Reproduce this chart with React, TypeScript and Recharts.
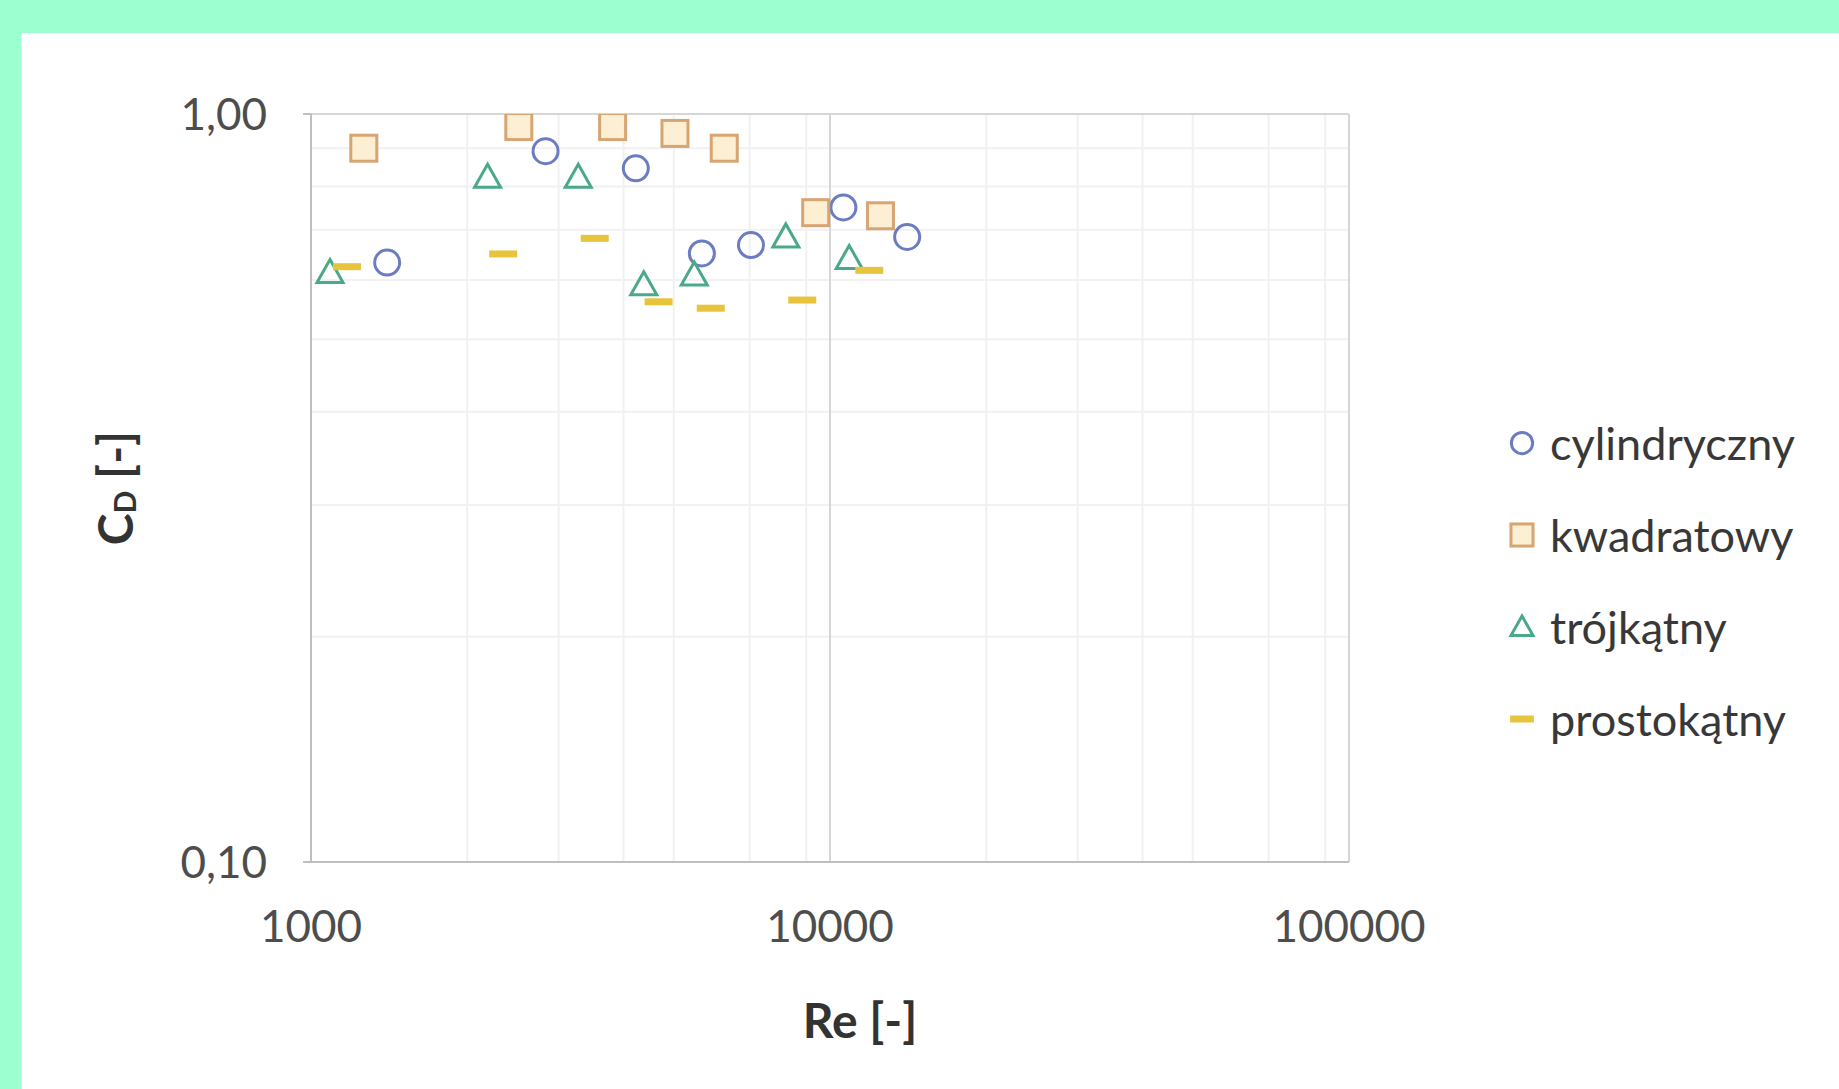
import { CartesianGrid, Scatter, ScatterChart, XAxis, YAxis } from 'recharts'

// Re [-] and C_D [-], one pair of arrays per shape
const reCylindryczny = [1402, 2831, 4225, 5664, 7043, 10612, 14083]
const cdCylindryczny = [0.633, 0.892, 0.846, 0.651, 0.668, 0.75, 0.685]

const reKwadratowy = [1264, 2514, 3812, 5027, 6255, 9385, 12509]
const cdKwadratowy = [0.9, 0.962, 0.962, 0.942, 0.9, 0.738, 0.731]

const reTrojkatny = [1088, 2189, 3273, 4377, 5476, 8220, 10889]
const cdTrojkatny = [0.614, 0.823, 0.823, 0.591, 0.609, 0.685, 0.641]

const reProstokatny = [1173, 2346, 3521, 4674, 5892, 8843, 11904]
const cdProstokatny = [0.625, 0.65, 0.682, 0.561, 0.55, 0.564, 0.618]

const X_TICKS = [1000, 10000, 100000]
const Y_TICKS = [0.1, 1]
const X_MINOR = [
  2000, 3000, 4000, 5000, 6000, 7000, 8000, 9000,
  20000, 30000, 40000, 50000, 60000, 70000, 80000, 90000,
]
const Y_MINOR = [0.2, 0.3, 0.4, 0.5, 0.6, 0.7, 0.8, 0.9]

type Kind = 'circle' | 'square' | 'triangle' | 'dash'

const SERIES: { name: string; re: number[]; cd: number[]; kind: Kind }[] = [
  { name: 'cylindryczny', re: reCylindryczny, cd: cdCylindryczny, kind: 'circle' },
  { name: 'kwadratowy', re: reKwadratowy, cd: cdKwadratowy, kind: 'square' },
  { name: 'trójkątny', re: reTrojkatny, cd: cdTrojkatny, kind: 'triangle' },
  { name: 'prostokątny', re: reProstokatny, cd: cdProstokatny, kind: 'dash' },
]

const FONT = 'Lato, "Open Sans", sans-serif'
const AXIS_GRAY = '#bfbfbf'

function toPoints(re: number[], cd: number[]) {
  return re.map((r, i) => ({ re: r, cd: cd[i] }))
}

function MarkerShape({ cx, cy, kind, s = 1 }: { cx: number; cy: number; kind: Kind; s?: number }) {
  if (kind === 'circle')
    return <circle cx={cx} cy={cy} r={12.5 * s} fill="none" stroke="#6b7cc0" strokeWidth={3} />
  if (kind === 'square')
    return (
      <rect
        x={cx - 13 * s}
        y={cy - 13 * s}
        width={26 * s}
        height={26 * s}
        fill="#fdefd4"
        stroke="#d6a572"
        strokeWidth={3}
      />
    )
  if (kind === 'triangle')
    return (
      <polygon
        points={`${cx},${cy - 13 * s} ${cx + 13 * s},${cy + 10 * s} ${cx - 13 * s},${cy + 10 * s}`}
        fill="none"
        stroke="#4aa987"
        strokeWidth={3}
      />
    )
  return <rect x={cx - 14 * s} y={cy - 3.5} width={28 * s} height={7} fill="#e7c43c" />
}

const fmtY = (v: number) => v.toFixed(2).replace('.', ',')

function XTitle(props: any) {
  const vb = props.viewBox
  return (
    <text
      x={vb.x + vb.width / 2 + 30}
      y={vb.y + 176}
      textAnchor="middle"
      fontFamily={FONT}
      fontWeight={700}
      fontSize={48}
      fill="#333333"
    >
      Re [-]
    </text>
  )
}

function YTitle(props: any) {
  const vb = props.viewBox
  const cx = 114
  const cy = vb.y + vb.height / 2
  return (
    <text
      x={cx}
      y={cy}
      transform={`rotate(-90 ${cx} ${cy})`}
      textAnchor="middle"
      dominantBaseline="central"
      fontFamily={FONT}
      fontWeight={700}
      fontSize={48}
      fill="#333333"
    >
      C
      <tspan fontSize={30} dy={10}>
        D
      </tspan>
      <tspan dy={-10}> [-]</tspan>
    </text>
  )
}

function LegendBox() {
  return (
    <div style={{ position: 'absolute', left: 1505, top: 397, fontFamily: FONT }}>
      {SERIES.map((s) => (
        <div key={s.name} style={{ display: 'flex', alignItems: 'center', height: 92 }}>
          <svg width={34} height={34} style={{ marginRight: 11 }}>
            <MarkerShape cx={17} cy={17} kind={s.kind} s={0.85} />
          </svg>
          <span style={{ fontSize: 45, color: '#383838', lineHeight: '92px' }}>{s.name}</span>
        </div>
      ))}
    </div>
  )
}

export default function App() {
  return (
    <div
      style={{
        position: 'absolute',
        left: 0,
        top: 0,
        width: 1839,
        height: 1089,
        background: '#9cffd0',
        overflow: 'hidden',
      }}
    >
      <div
        style={{
          position: 'absolute',
          left: 21,
          top: 33,
          width: 1818,
          height: 1056,
          background: '#ffffff',
        }}
      />
      <div style={{ position: 'absolute', left: 0, top: 0 }}>
        <ScatterChart
          width={1839}
          height={1089}
          margin={{ top: 114, right: 490, bottom: 167, left: 211 }}
        >
          <CartesianGrid
            horizontalValues={Y_MINOR}
            verticalValues={X_MINOR}
            stroke="#f1f1f1"
            strokeWidth={2}
          />
          <CartesianGrid
            horizontalValues={Y_TICKS}
            verticalValues={X_TICKS}
            stroke="#d6d6d6"
            strokeWidth={2}
          />
          <XAxis
            type="number"
            dataKey="re"
            scale="log"
            domain={[1000, 100000]}
            allowDataOverflow
            ticks={X_TICKS}
            height={60}
            tickLine={false}
            tickSize={6}
            tickMargin={43}
            axisLine={{ stroke: AXIS_GRAY, strokeWidth: 2 }}
            tick={{ fontFamily: FONT, fontSize: 44, fill: '#4d4d4d' }}
            label={<XTitle />}
          />
          <YAxis
            type="number"
            dataKey="cd"
            scale="log"
            domain={[0.1, 1]}
            allowDataOverflow
            ticks={Y_TICKS}
            width={100}
            tickSize={8}
            tickMargin={36}
            tickFormatter={fmtY}
            tickLine={{ stroke: AXIS_GRAY, strokeWidth: 2 }}
            axisLine={{ stroke: AXIS_GRAY, strokeWidth: 2 }}
            tick={{ fontFamily: FONT, fontSize: 44, fill: '#4d4d4d' }}
            label={<YTitle />}
          />
          {SERIES.map((s) => (
            <Scatter
              key={s.name}
              name={s.name}
              data={toPoints(s.re, s.cd)}
              isAnimationActive={false}
              shape={(p: any) => <MarkerShape cx={p.cx} cy={p.cy} kind={s.kind} />}
            />
          ))}
        </ScatterChart>
      </div>
      <LegendBox />
    </div>
  )
}
